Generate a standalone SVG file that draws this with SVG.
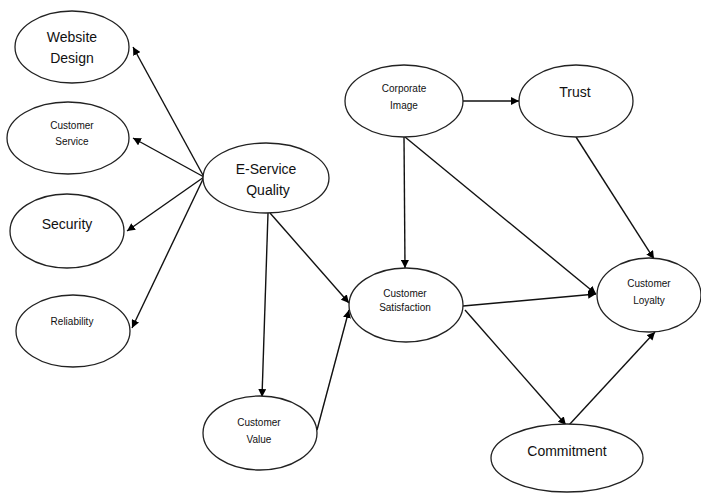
<svg xmlns="http://www.w3.org/2000/svg" width="701" height="495" viewBox="0 0 701 495">
<defs>
<marker id="ah" viewBox="0 0 10 10" refX="10" refY="5" markerWidth="8" markerHeight="8" markerUnits="userSpaceOnUse" orient="auto">
<path d="M0,0 L10,5 L0,10 z" fill="#000"/>
</marker>
<style>
ellipse{fill:#fff;stroke:#222;stroke-width:1.3}
text{font-family:"Liberation Sans",Arial,sans-serif;fill:#111;text-anchor:middle}
.l{font-size:14px}
.s{font-size:10px}
#edges line{stroke:#111;stroke-width:1.4;marker-end:url(#ah)}
</style>
</defs>
<rect width="701" height="495" fill="#fff"/>
<g id="edges">
<line x1="204" y1="177" x2="133" y2="47"/>
<line x1="204" y1="177" x2="133" y2="138"/>
<line x1="204" y1="177" x2="127" y2="231"/>
<line x1="204" y1="177" x2="132" y2="328"/>
<line x1="268" y1="213" x2="262" y2="397"/>
<line x1="270" y1="213" x2="349" y2="303"/>
<line x1="317" y1="430" x2="349" y2="310"/>
<line x1="404" y1="137" x2="405" y2="268"/>
<line x1="405" y1="137" x2="596" y2="294"/>
<line x1="463" y1="101" x2="519" y2="101"/>
<line x1="576" y1="137" x2="654" y2="259"/>
<line x1="463" y1="306" x2="596" y2="294"/>
<line x1="465" y1="310" x2="566" y2="425"/>
<line x1="569" y1="425" x2="655" y2="332"/>
</g>
<g id="website-design"><ellipse cx="72" cy="47" rx="57" ry="36"/><text class="l" x="72" y="42">Website</text><text class="l" x="72" y="63">Design</text></g>
<g id="customer-service"><ellipse cx="68" cy="138" rx="61" ry="36"/><text class="s" x="72" y="129">Customer</text><text class="s" x="72" y="145">Service</text></g>
<g id="security"><ellipse cx="67" cy="231" rx="57" ry="37"/><text class="l" x="67" y="229">Security</text></g>
<g id="reliability"><ellipse cx="73" cy="331" rx="57" ry="36"/><text class="s" x="72" y="325">Reliability</text></g>
<g id="e-service-quality"><ellipse cx="266" cy="178" rx="63" ry="35"/><text class="l" x="266" y="174">E-Service</text><text class="l" x="268" y="195">Quality</text></g>
<g id="customer-value"><ellipse cx="260" cy="433" rx="57" ry="37"/><text class="s" x="259" y="426">Customer</text><text class="s" x="259" y="443">Value</text></g>
<g id="corporate-image"><ellipse cx="404" cy="101" rx="59" ry="36"/><text class="s" x="404" y="92">Corporate</text><text class="s" x="404" y="109">Image</text></g>
<g id="trust"><ellipse cx="576" cy="101" rx="57" ry="36"/><text class="l" x="575" y="97">Trust</text></g>
<g id="customer-satisfaction"><ellipse cx="406" cy="305" rx="57" ry="37"/><text class="s" x="405" y="297">Customer</text><text class="s" x="405" y="311">Satisfaction</text></g>
<g id="customer-loyalty"><ellipse cx="649" cy="295" rx="52" ry="37"/><text class="s" x="649" y="287">Customer</text><text class="s" x="649" y="304">Loyalty</text></g>
<g id="commitment"><ellipse cx="567" cy="458" rx="76" ry="34"/><text class="l" x="567" y="456">Commitment</text></g>
</svg>
